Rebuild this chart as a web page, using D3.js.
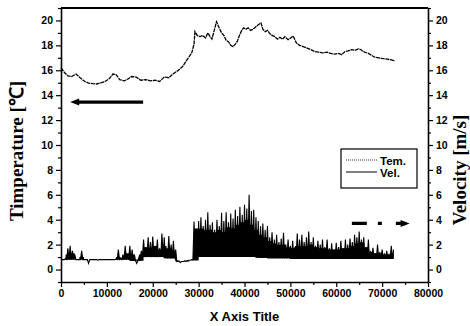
<!DOCTYPE html>
<html><head><meta charset="utf-8">
<script src="https://cdn.jsdelivr.net/npm/d3@7"></script>
<style>html,body{margin:0;padding:0;background:#fff;}svg{display:block;}</style>
</head><body>
<svg id="c" width="470" height="326"></svg>
<script>
// ---- data ----
const xTicks = [0,10000,20000,30000,40000,50000,60000,70000,80000];
const yTicks = [0,2,4,6,8,10,12,14,16,18,20];
const xTitle = "X Axis Title";
const yLeftTitle = "Timperature [\u2103]";
const yRightTitle = "Velocity [m/s]";
const legendLabels = ["Tem.","Vel."];

// Temperature (x, value)
const tempX = [0,800,1500,2300,3300,4300,5200,6000,7000,7800,8800,9600,10600,11300,12000,12800,13800,14600,15400,16400,17400,18500,19500,20500,21500,22500,23500,24400,25400,26500,27500,28500,29000,29200,29700,30300,30900,31500,32000,32500,32900,33400,33900,34500,35000,35500,36000,36500,37000,37500,38000,38400,38900,39400,39800,40300,40800,41300,41900,42500,43000,43600,44000,44500,45000,45500,46000,46600,47200,47700,48300,48800,49500,50100,50600,51300,52000,52800,53500,54200,55300,56200,57100,58000,58800,59700,60500,61200,61900,62600,63300,64100,64800,65400,65900,67000,68400,69200,69900,71000,71800,72800];
const tempY = [16.2,15.8,15.55,15.5,15.7,15.35,15.1,14.97,14.92,14.9,15.0,15.1,15.35,15.7,15.65,15.25,15.15,15.3,15.5,15.45,15.2,15.25,15.15,15.2,15.1,15.45,15.4,15.7,15.95,16.3,16.85,17.4,18.1,19.1,18.8,18.7,18.8,18.6,19.0,18.7,18.5,19.2,19.9,19.4,19.0,18.8,18.4,18.3,18.0,17.9,18.1,18.3,18.8,19.2,19.4,19.3,19.4,19.2,19.3,19.5,19.65,19.8,19.3,19.1,19.2,18.95,18.8,18.7,18.5,18.65,18.5,18.7,18.45,18.6,18.75,18.2,18.0,17.9,17.8,17.7,17.5,17.45,17.4,17.45,17.35,17.3,17.35,17.25,17.5,17.55,17.65,17.6,17.72,17.65,17.5,17.35,17.05,17.0,16.95,16.9,16.85,16.76];

// Velocity: peak values every 500 units starting at 0
const velStep = 500;
const velPeak = [0.8,0.8,0.9,1.7,1.9,1.5,1.2,0.8,0.8,1.5,
  0.8,0.8,0.5,0.8,0.8,0.8,0.75,0.8,0.8,0.8,0.8,0.8,0.8,0.8,0.85,
  1.6,0.9,1.2,1.9,1.2,1.9,1.6,1.2,0.5,1.0,1.5,
  2.4,1.8,2.6,2.2,2.65,1.9,2.4,1.7,2.9,2.6,1.5,2.7,2.0,2.3,1.6,
  0.7,0.55,0.65,0.7,0.7,0.75,0.8,
  3.85,3.2,3.9,4.2,3.5,4.0,4.6,3.6,3.8,3.2,4.0,3.5,4.55,3.9,4.6,3.8,4.5,4.1,4.8,4.3,5.05,4.4,5.2,4.9,6.0,4.7,4.8,4.2,3.9,3.5,3.7,3.2,3.5,
  2.6,3.0,2.4,2.8,2.2,2.5,2.95,2.0,2.4,1.9,2.3,1.8,2.9,2.4,2.8,2.2,2.6,3.05,2.2,2.6,1.9,2.3,2.0,2.4,1.8,2.4,1.7,2.1,1.6,2.15,1.8,2.3,1.7,2.4,2.0,2.5,2.2,2.8,2.6,3.05,2.4,2.6,1.8,2.4,1.5,1.75,1.3,2.0,1.4,1.6,1.3,1.5,1.2,1.9,1.6];
// Velocity: low values per 2500-unit bin
const velLowStep = 2500;
const velLow = [0.8,0.8,0.8,0.8,0.8,0.8,0.7,1.0,1.0,0.9,0.65,0.75,1.0,1.0,1.0,1.0,1.0,0.95,0.9,0.9,0.85,0.85,0.85,0.85,0.85,0.85,0.85,0.85,0.85,0.85];
// Velocity: level up to which the dense signal looks solid, per 1000-unit bin
const velSolidStep = 1000;
const velSolid = [0.8,1.2,1.3,0.8,1.0,0.8,0.8,0.8,0.8,0.8,0.8,0.8,1.0,0.9,1.3,1.2,0.8,1.2,1.8,1.7,1.9,1.6,1.9,1.7,1.5,0.7,0.65,0.7,0.75,3.3,3.3,3.2,3.2,3.0,3.2,3.0,3.4,3.3,3.6,3.8,4.0,3.6,3.2,2.8,2.6,2.3,2.1,2.0,2.0,1.8,1.7,1.9,1.9,1.9,2.0,1.8,1.7,1.7,1.6,1.6,1.6,1.7,1.7,1.9,2.1,2.2,1.8,1.4,1.3,1.3,1.2,1.2,1.3];

// annotation arrows (data coords)
const leftArrow = {x0:17900, x1:2000, y:13.45};
const rightArrow = {x0:63400, x1:76000, y:3.7};

// ---- drawing ----
const svg = d3.select("#c");
const L=61, R=428, T=8, B=282;
const x = d3.scaleLinear().domain([0,80000]).range([L,R]);
const y = d3.scaleLinear().domain([-1,21]).range([B,T]);

const tickFont = "bold 10.5px Arial, 'Liberation Sans', sans-serif";

// temperature
const tempPts = tempX.map((d,i)=>[d,tempY[i]]);
svg.append("path").datum(tempPts)
  .attr("d", d3.line().x(d=>x(d[0])).y(d=>y(d[1])))
  .attr("fill","none").attr("stroke","#000").attr("stroke-width",1.3)
  .attr("stroke-dasharray","4,0.7");

// velocity
const lowAt = xv => velLow[Math.min(velLow.length-1, Math.floor(xv/velLowStep))];
const xEnd = (velPeak.length-1)*velStep;
const solidPts = velSolid.map((s,k)=>[k*velSolidStep, s]).concat([[xEnd, velSolid[velSolid.length-1]]]);
svg.append("path").datum(solidPts)
  .attr("d", d3.area().curve(d3.curveStepAfter).x(d=>x(d[0])).y0(d=>y(Math.min(d[1],lowAt(d[0])))).y1(d=>y(d[1])))
  .attr("fill","#000").attr("stroke","none");

const velPts = [];
velPeak.forEach((p,i)=>{
  const xv = i*velStep;
  velPts.push([xv,p]);
  if(i<velPeak.length-1){
    velPts.push([xv+velStep/2, lowAt(xv)]);
  }
});
svg.append("path").datum(velPts)
  .attr("d", d3.area().x(d=>x(d[0])).y0(d=>y(Math.min(d[1],lowAt(d[0])))).y1(d=>y(d[1])))
  .attr("fill","#000").attr("stroke","none");
svg.append("path").datum(velPts)
  .attr("d", d3.line().x(d=>x(d[0])).y(d=>y(d[1])))
  .attr("fill","none").attr("stroke","#000").attr("stroke-width",1.1);

// axes
const minorY = d3.range(-1,22,2);
const minorX = d3.range(5000,80000,10000);

function styleAxis(g){
  g.selectAll("path.domain").attr("stroke","#000").attr("stroke-width",1.6);
  g.selectAll(".tick line").attr("stroke","#000").attr("stroke-width",1.2);
  g.selectAll("text").style("font",tickFont).attr("fill","#000");
}
// bottom
const gB = svg.append("g").attr("transform",`translate(0,${B})`)
  .call(d3.axisBottom(x).tickValues(xTicks).tickFormat(d3.format("d")).tickSize(5).tickSizeOuter(0).tickPadding(3));
styleAxis(gB);
svg.append("g").attr("transform",`translate(0,${B})`)
  .call(d3.axisBottom(x).tickValues(minorX).tickFormat("").tickSize(3).tickSizeOuter(0))
  .call(g=>{g.select(".domain").remove(); g.selectAll("line").attr("stroke","#000").attr("stroke-width",1.2);});
// top
svg.append("line").attr("x1",L).attr("x2",R).attr("y1",T).attr("y2",T).attr("stroke","#000").attr("stroke-width",1.8);
// left
const gL = svg.append("g").attr("transform",`translate(${L},0)`)
  .call(d3.axisLeft(y).tickValues(yTicks).tickSize(5).tickSizeOuter(0).tickPadding(3));
styleAxis(gL);
svg.append("g").attr("transform",`translate(${L},0)`)
  .call(d3.axisLeft(y).tickValues(minorY).tickFormat("").tickSize(3).tickSizeOuter(0))
  .call(g=>{g.select(".domain").remove(); g.selectAll("line").attr("stroke","#000").attr("stroke-width",1.2);});
// right
const gR = svg.append("g").attr("transform",`translate(${R},0)`)
  .call(d3.axisRight(y).tickValues(yTicks).tickSize(5).tickSizeOuter(0).tickPadding(3));
styleAxis(gR);
svg.append("g").attr("transform",`translate(${R},0)`)
  .call(d3.axisRight(y).tickValues(minorY).tickFormat("").tickSize(3).tickSizeOuter(0))
  .call(g=>{g.select(".domain").remove(); g.selectAll("line").attr("stroke","#000").attr("stroke-width",1.2);});

// titles
svg.append("text").text(xTitle).attr("x",(L+R)/2).attr("y",321)
  .attr("text-anchor","middle").style("font","bold 13px Arial, 'Liberation Sans', sans-serif");
svg.append("text").text(yLeftTitle)
  .attr("transform","translate(23,151) rotate(-90)")
  .attr("text-anchor","middle").style("font","bold 19px 'Times New Roman', 'Liberation Serif', serif");
svg.append("text").text(yRightTitle)
  .attr("transform","translate(466,170) rotate(-90)")
  .attr("text-anchor","middle").style("font","bold 19px 'Times New Roman', 'Liberation Serif', serif");

// legend
const lg = svg.append("g");
lg.append("rect").attr("x",341).attr("y",149).attr("width",76).attr("height",39)
  .attr("fill","#fff").attr("stroke","#000").attr("stroke-width",1.2);
legendLabels.forEach((t,i)=>{
  const yy = 161 + i*12;
  lg.append("line").attr("x1",346).attr("x2",377).attr("y1",yy-1).attr("y2",yy-1)
    .attr("stroke","#000").attr("stroke-width",i===0?0.8:1)
    .attr("stroke-dasharray", i===0 ? "1,1" : null);
  lg.append("text").text(t).attr("x",380).attr("y",yy+3.5)
    .style("font","bold 11.5px Arial, 'Liberation Sans', sans-serif");
});

// arrows
function arrowHead(xTip, yTip, dir){
  const len=9, hw=3.5;
  svg.append("path").attr("d",`M${xTip},${yTip} L${xTip-dir*len},${yTip-hw} L${xTip-dir*len},${yTip+hw} Z`).attr("fill","#000");
}
svg.append("line").attr("x1",x(leftArrow.x0)).attr("x2",x(leftArrow.x1)+6).attr("y1",y(leftArrow.y)).attr("y2",y(leftArrow.y))
  .attr("stroke","#000").attr("stroke-width",3.2);
arrowHead(x(leftArrow.x1), y(leftArrow.y), -1);
const ra0 = x(rightArrow.x0), ra1 = x(rightArrow.x1), ry = y(rightArrow.y);
svg.append("line").attr("x1",ra0).attr("x2",ra1-6).attr("y1",ry).attr("y2",ry)
  .attr("stroke","#000").attr("stroke-width",3.2).attr("stroke-dasharray","15,11,4,14,100");
arrowHead(ra1, ry, 1);
</script>
</body></html>
